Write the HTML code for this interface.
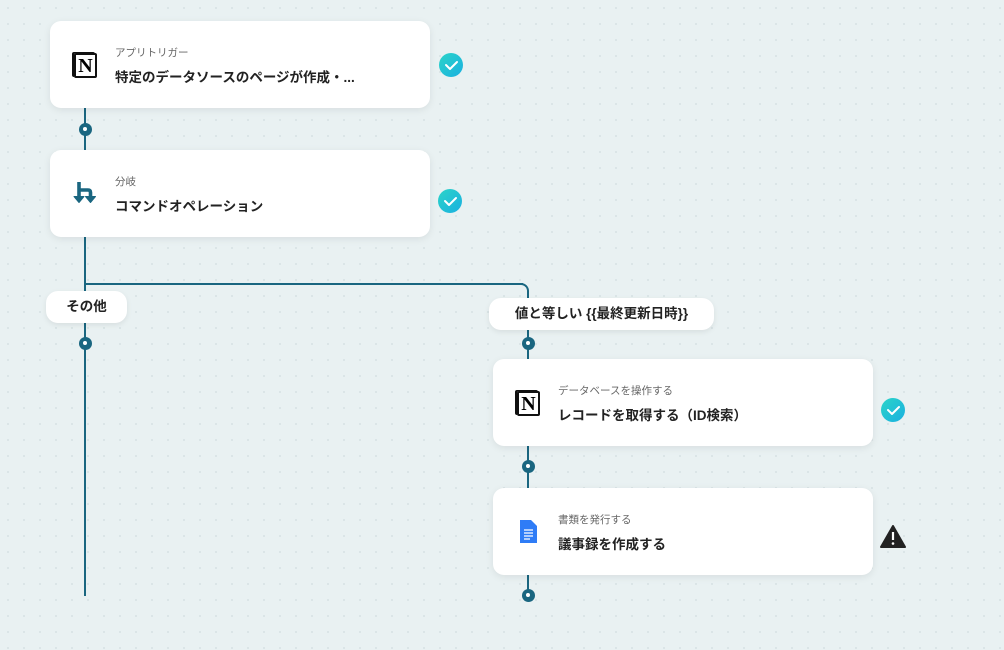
<!DOCTYPE html>
<html><head><meta charset="utf-8"><style>
*{margin:0;padding:0;box-sizing:border-box}
body{width:1004px;height:650px;overflow:hidden;background-color:#e9f1f2;background-image:radial-gradient(circle,#d6e1e3 0.8px,transparent 1px);background-size:16px 16px;font-family:"Liberation Sans","Noto Sans CJK JP",sans-serif;position:relative}
.card{position:absolute;width:380px;height:87px;background:#fff;border-radius:11px;box-shadow:0 2px 8px rgba(0,0,0,.08)}
.sub{position:absolute;left:65px;top:24px;font-size:10.5px;color:#666}
.ttl{position:absolute;left:65px;top:45px;font-size:13.5px;font-weight:bold;color:#222}
.ic{position:absolute;left:22px;top:31px;width:26px;height:26px}
.ln{position:absolute;background:#1a6680}
.dot{position:absolute;width:13px;height:13px;border-radius:50%;background:#1a6680;margin:-6.5px 0 0 -6.5px}
.dot::after{content:"";position:absolute;left:4.5px;top:4.5px;width:4px;height:4px;border-radius:50%;background:#fff}
.chk{position:absolute;width:24px;height:24px;border-radius:50%;background:linear-gradient(135deg,#2bd4c8,#1ab0e0);margin:-12px 0 0 -12px}
.pill{position:absolute;height:32px;background:#fff;border-radius:12px;box-shadow:0 2px 6px rgba(0,0,0,.08);font-size:13.5px;font-weight:bold;color:#222;line-height:32px;text-align:center}
.n{font-family:"Liberation Serif",serif;font-weight:bold;font-size:20px;line-height:22px;text-align:center;border:2.5px solid #111;border-radius:2px;width:23px;height:25px;box-shadow:-2px -1px 0 #111}
</style></head><body>
<div class="ln" style="left:84px;top:108px;width:2px;height:488px"></div>
<div class="ln" style="left:85px;top:283px;width:438px;height:2px"></div>
<div style="position:absolute;left:517px;top:283px;width:12px;height:12px;border-top:2px solid #1a6680;border-right:2px solid #1a6680;border-top-right-radius:8px"></div>
<div class="ln" style="left:527px;top:294px;width:2px;height:302px"></div>

<div class="card" style="left:50px;top:21px">
<div class="ic n" style="left:24px;top:32px">N</div>
<div class="sub">アプリトリガー</div><div class="ttl">特定のデータソースのページが作成・...</div></div>
<div class="card" style="left:50px;top:150px">
<svg class="ic" viewBox="0 0 26 26" style="left:22px;top:30px"><path d="M7 2v15M7 10h9q2.5 0 2.5 2.5V17" stroke="#1a6680" stroke-width="3.6" fill="none"/><path d="M2 16.5h10l-5 6zM13.5 16.5h10l-5 6z" fill="#1a6680" stroke="#1a6680" stroke-width="1" stroke-linejoin="round"/></svg>
<div class="sub">分岐</div><div class="ttl">コマンドオペレーション</div></div>
<div class="card" style="left:493px;top:359px">
<div class="ic n" style="left:24px;top:32px">N</div>
<div class="sub">データベースを操作する</div><div class="ttl">レコードを取得する（ID検索）</div></div>
<div class="card" style="left:493px;top:488px">
<svg class="ic" viewBox="0 0 26 26" style="left:22px;top:31px"><path d="M5 1h11l6 6v17H5z" fill="#2f7cf6"/><path d="M9 11h9M9 14h9M9 17h9M9 20h6" stroke="#fff" stroke-width="1.3"/></svg>
<div class="sub">書類を発行する</div><div class="ttl">議事録を作成する</div></div>

<div class="pill" style="left:46px;top:291px;width:81px">その他</div>
<div class="pill" style="left:489px;top:298px;width:225px">値と等しい {{最終更新日時}}</div>

<div class="dot" style="left:85px;top:129px"></div>
<div class="dot" style="left:85px;top:343px"></div>
<div class="dot" style="left:528px;top:343px"></div>
<div class="dot" style="left:528px;top:466px"></div>
<div class="dot" style="left:528px;top:595px"></div>

<div class="chk" style="left:451px;top:65px"></div>
<div class="chk" style="left:450px;top:201px"></div>
<div class="chk" style="left:893px;top:410px"></div>
<svg style="position:absolute;left:0;top:0" width="1004" height="650">
<g fill="none" stroke="#fff" stroke-width="2" stroke-linecap="round" stroke-linejoin="round">
<path d="M446 65l4 4 7-7"/><path d="M445 201l4 4 7-7"/><path d="M888 410l4 4 7-7"/></g>
<path d="M893 526l12 21h-24z" fill="#222" stroke="#222" stroke-width="2" stroke-linejoin="round"/>
<path d="M893 532v8" stroke="#fff" stroke-width="2.2"/><circle cx="893" cy="543.5" r="1.3" fill="#fff"/>
</svg>
</body></html>
